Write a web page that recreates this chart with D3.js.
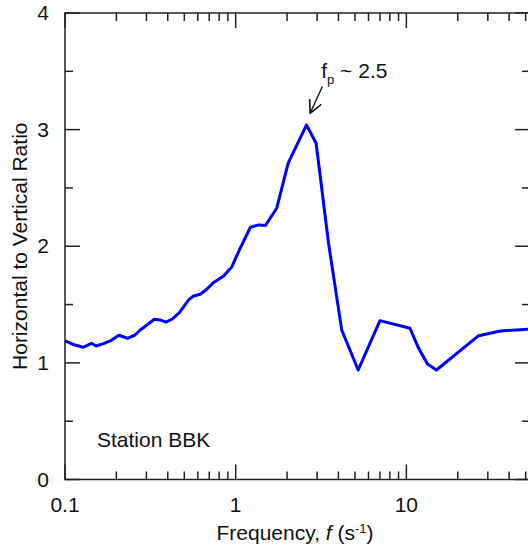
<!DOCTYPE html>
<html>
<head>
<meta charset="utf-8">
<script src="https://cdn.jsdelivr.net/npm/d3@7"></script>
<style>
  html, body { margin: 0; padding: 0; background: #fff; }
  svg { display: block; font-family: "Liberation Sans", Arial, sans-serif; }
  .axis-line { stroke: #222; stroke-width: 1.5; fill: none; }
  .tick { stroke: #222; stroke-width: 1.5; }
  .lbl { font-size: 21px; fill: #111; }
</style>
</head>
<body>
<svg id="chart" width="528" height="548"></svg>
<script>
/* H/V spectral ratio, station BBK. */

const freq = [0.1, 0.1145, 0.128, 0.143, 0.152, 0.168, 0.184, 0.207, 0.232, 0.257,
  0.275, 0.302, 0.334, 0.36, 0.39, 0.423, 0.468, 0.53, 0.566, 0.62,
  0.677, 0.74, 0.85, 0.95, 1.06, 1.22, 1.36, 1.49, 1.74, 2.03,
  2.6, 2.96, 3.5, 4.18, 5.22, 7.0, 10.5, 11.8, 13.3, 15.0,
  26.5, 35.6, 53];
const hvRatio = [1.188, 1.153, 1.134, 1.168, 1.145, 1.165, 1.188, 1.237, 1.211, 1.239,
  1.28, 1.325, 1.374, 1.368, 1.35, 1.374, 1.43, 1.54, 1.574, 1.588,
  1.631, 1.688, 1.745, 1.825, 1.98, 2.163, 2.183, 2.177, 2.326, 2.712,
  3.04, 2.883, 2.026, 1.282, 0.939, 1.362, 1.297, 1.125, 0.99, 0.939,
  1.233, 1.274, 1.29];

const xDomain = [0.1, 53];
const yDomain = [0, 4];
const xTickLabels = [0.1, 1, 10];
const yTickLabels = [0, 1, 2, 3, 4];
const yMinorTicks = [0.5, 1.5, 2.5, 3.5];

const stationLabel = "Station BBK";
const peakNote = { f: 3.17, v: 3.44, arrowFrom: [3.22, 3.37], arrowTo: [2.73, 3.14] };

const svg = d3.select("#chart");
const padL = 65, padR = 530, padT = 13, padB = 479.5;

const x = d3.scaleLog().domain(xDomain).range([padL, padR]);
const y = d3.scaleLinear().domain(yDomain).range([padB, padT]);

const MAJOR = 15, MINOR = 8;

/* ---------- frame ---------- */
svg.append("rect").attr("class", "axis-line")
  .attr("x", padL).attr("y", padT)
  .attr("width", padR - padL).attr("height", padB - padT);

/* ---------- x ticks (bottom + top, pointing inward) ---------- */
const xTicks = x.ticks().filter(function (t) { return t >= xDomain[0] && t <= xDomain[1]; });
const isDecade = function (t) { return Math.abs(Math.log10(t) - Math.round(Math.log10(t))) < 1e-9; };

const gx = svg.append("g");
xTicks.forEach(function (t) {
  const len = isDecade(t) ? MAJOR : MINOR;
  gx.append("line").attr("class", "tick")
    .attr("x1", x(t)).attr("x2", x(t)).attr("y1", padB).attr("y2", padB - len);
  gx.append("line").attr("class", "tick")
    .attr("x1", x(t)).attr("x2", x(t)).attr("y1", padT).attr("y2", padT + len);
});
xTickLabels.forEach(function (t) {
  gx.append("text").attr("class", "lbl")
    .attr("x", x(t)).attr("y", 512)
    .attr("text-anchor", "middle")
    .text(t);
});

/* ---------- y ticks (left + right) ---------- */
const gy = svg.append("g");
yTickLabels.concat(yMinorTicks).forEach(function (t) {
  const len = Number.isInteger(t) ? MAJOR : MINOR;
  gy.append("line").attr("class", "tick")
    .attr("x1", padL).attr("x2", padL + len).attr("y1", y(t)).attr("y2", y(t));
  gy.append("line").attr("class", "tick")
    .attr("x1", padR).attr("x2", padR - len).attr("y1", y(t)).attr("y2", y(t));
});
yTickLabels.forEach(function (t) {
  gy.append("text").attr("class", "lbl")
    .attr("x", 49).attr("y", y(t) + 7)
    .attr("text-anchor", "end")
    .text(t);
});

/* ---------- axis titles ---------- */
const xt = svg.append("text").attr("class", "lbl")
  .attr("x", 295).attr("y", 540).attr("text-anchor", "middle");
xt.append("tspan").text("Frequency, ");
xt.append("tspan").attr("font-style", "italic").text("f");
xt.append("tspan").text(" (s");
xt.append("tspan").attr("font-size", "13px").attr("dy", -7).text("-1");
xt.append("tspan").attr("dy", 7).text(")");

svg.append("text").attr("class", "lbl")
  .attr("transform", "translate(27," + ((padT + padB) / 2) + ") rotate(-90)")
  .attr("text-anchor", "middle")
  .text("Horizontal to Vertical Ratio");

/* ---------- curve ---------- */
const pts = freq.map(function (f, i) { return [f, hvRatio[i]]; });
const line = d3.line()
  .x(function (d) { return x(d[0]); })
  .y(function (d) { return y(d[1]); });

svg.append("path")
  .datum(pts)
  .attr("d", line)
  .attr("fill", "none")
  .attr("stroke", "#0000ff")
  .attr("stroke-width", 3)
  .attr("stroke-linejoin", "round");

/* ---------- annotations ---------- */
svg.append("text").attr("class", "lbl")
  .attr("x", 97).attr("y", 447)
  .text(stationLabel);

svg.append("defs").append("marker")
  .attr("id", "open-arrow")
  .attr("viewBox", "0 -6 12 12")
  .attr("refX", 11).attr("refY", 0)
  .attr("markerUnits", "userSpaceOnUse")
  .attr("markerWidth", 14).attr("markerHeight", 14)
  .attr("orient", "auto")
  .append("path")
  .attr("d", "M0,-5.5L11,0L0,5.5")
  .attr("fill", "none")
  .attr("stroke", "#111")
  .attr("stroke-width", 1.4);

svg.append("line")
  .attr("x1", x(peakNote.arrowFrom[0])).attr("y1", y(peakNote.arrowFrom[1]))
  .attr("x2", x(peakNote.arrowTo[0])).attr("y2", y(peakNote.arrowTo[1]))
  .attr("stroke", "#111").attr("stroke-width", 1.4)
  .attr("marker-end", "url(#open-arrow)");

const pk = svg.append("text").attr("class", "lbl")
  .attr("x", x(peakNote.f)).attr("y", y(peakNote.v));
pk.append("tspan").text("f");
pk.append("tspan").attr("font-size", "13px").attr("dy", 6).text("p");
pk.append("tspan").attr("dy", -6).text(" ~ 2.5");
</script>
</body>
</html>
